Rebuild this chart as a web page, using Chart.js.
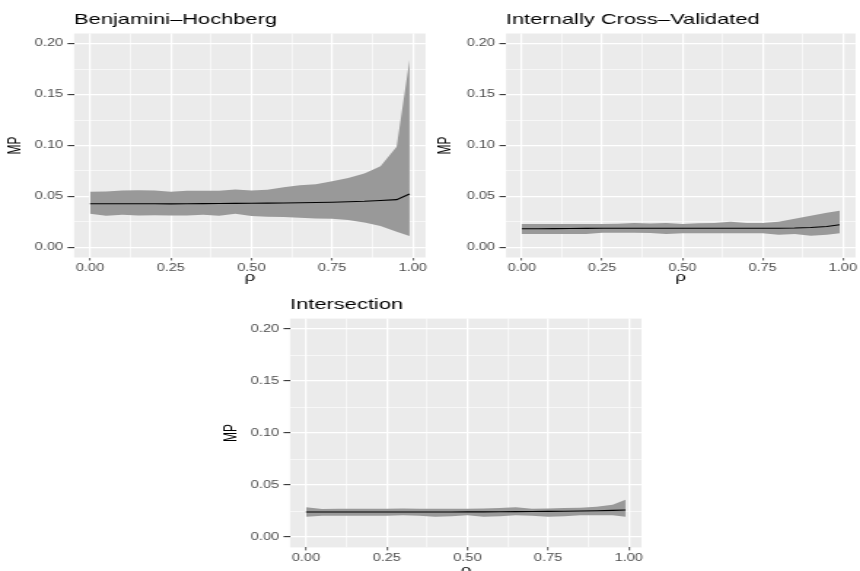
<!DOCTYPE html>
<html>
<head>
<meta charset="utf-8">
<script src="https://cdn.jsdelivr.net/npm/chart.js@4.4.1/dist/chart.umd.min.js"></script>
<style>
  body { margin: 0; background: #fff; width: 860px; height: 571px; overflow: hidden; position: relative; }
  canvas { position: absolute; }
</style>
</head>
<body>
<!-- canvases are drawn narrow and stretched sideways, as the reference picture is -->
<canvas id="bh"  width="295" height="290" style="left:0px;top:0px;width:430px;height:290px"></canvas>
<canvas id="icv" width="295" height="290" style="left:430px;top:0px;width:430px;height:290px"></canvas>
<canvas id="int" width="295" height="286" style="left:216px;top:285px;width:430px;height:286px"></canvas>
<script>
// rho values (x)
const rho = [0.00, 0.05, 0.10, 0.15, 0.20, 0.25, 0.30, 0.35, 0.40, 0.45, 0.50,
             0.55, 0.60, 0.65, 0.70, 0.75, 0.80, 0.85, 0.90, 0.95, 0.99];

// Benjamini-Hochberg
const bhMean  = [0.0428, 0.0428, 0.0428, 0.0428, 0.0428, 0.0427, 0.0428, 0.0429, 0.0430, 0.0432, 0.0433,
                 0.0434, 0.0435, 0.0437, 0.0440, 0.0443, 0.0447, 0.0452, 0.0460, 0.0468, 0.0523];
const bhUpper = [0.0546, 0.0548, 0.0559, 0.0560, 0.0557, 0.0546, 0.0556, 0.0555, 0.0556, 0.0569, 0.0559,
                 0.0565, 0.0590, 0.0610, 0.0620, 0.0650, 0.0680, 0.0725, 0.0797, 0.0987, 0.1840];
const bhLower = [0.0330, 0.0310, 0.0320, 0.0312, 0.0314, 0.0312, 0.0312, 0.0320, 0.0310, 0.0330, 0.0307,
                 0.0300, 0.0297, 0.0290, 0.0284, 0.0280, 0.0268, 0.0243, 0.0210, 0.0154, 0.0110];

// Internally Cross-Validated
const icvMean  = [0.0183, 0.0183, 0.0184, 0.0185, 0.0186, 0.0187, 0.0187, 0.0187, 0.0187, 0.0187, 0.0187,
                  0.0187, 0.0187, 0.0187, 0.0187, 0.0188, 0.0188, 0.0190, 0.0195, 0.0205, 0.0222];
const icvUpper = [0.0229, 0.0229, 0.0229, 0.0229, 0.0229, 0.0230, 0.0232, 0.0240, 0.0235, 0.0239, 0.0230,
                  0.0236, 0.0238, 0.0250, 0.0240, 0.0240, 0.0250, 0.0280, 0.0310, 0.0340, 0.0360];
const icvLower = [0.0130, 0.0130, 0.0130, 0.0130, 0.0130, 0.0144, 0.0144, 0.0144, 0.0140, 0.0130, 0.0137,
                  0.0137, 0.0137, 0.0137, 0.0137, 0.0137, 0.0124, 0.0130, 0.0114, 0.0124, 0.0137];

// Intersection
const intMean  = [0.0240, 0.0240, 0.0240, 0.0240, 0.0240, 0.0240, 0.0241, 0.0241, 0.0241, 0.0241, 0.0242,
                  0.0242, 0.0243, 0.0244, 0.0245, 0.0246, 0.0248, 0.0250, 0.0253, 0.0256, 0.0260];
const intUpper = [0.0286, 0.0270, 0.0272, 0.0272, 0.0272, 0.0272, 0.0275, 0.0272, 0.0272, 0.0272, 0.0272,
                  0.0275, 0.0280, 0.0286, 0.0272, 0.0275, 0.0280, 0.0282, 0.0290, 0.0310, 0.0357];
const intLower = [0.0195, 0.0205, 0.0205, 0.0205, 0.0205, 0.0205, 0.0210, 0.0205, 0.0195, 0.0200, 0.0210,
                  0.0195, 0.0200, 0.0210, 0.0205, 0.0195, 0.0200, 0.0210, 0.0210, 0.0210, 0.0195];

// axis breaks (major + minor grid)
const xBreaks = [0, 0.125, 0.25, 0.375, 0.5, 0.625, 0.75, 0.875, 1.0];
const yBreaks = [0, 0.025, 0.05, 0.075, 0.10, 0.125, 0.15, 0.175, 0.20];

const FONT = '"Liberation Sans", Arial, Helvetica, sans-serif';
const isMajorX = v => Math.abs(v * 4 - Math.round(v * 4)) < 1e-6;
const isMajorY = v => Math.abs(v * 20 - Math.round(v * 20)) < 1e-6;

// grey panel background + titles, ggplot style
const panelDeco = {
  id: 'panelDeco',
  beforeDraw(chart, args, opts) {
    const { ctx, chartArea: a } = chart;
    ctx.save();
    ctx.fillStyle = '#EBEBEB';
    ctx.fillRect(a.left, a.top, a.right - a.left, a.bottom - a.top);

    ctx.fillStyle = '#000';
    ctx.textBaseline = 'alphabetic';
    ctx.font = '15px ' + FONT;
    ctx.textAlign = 'left';
    ctx.fillText(opts.title, a.left, a.top - 9.5);

    ctx.font = '13px ' + FONT;
    ctx.textAlign = 'center';
    ctx.fillText('\u03C1', (a.left + a.right) / 2, a.bottom + opts.xTitleGap);

    ctx.font = '12px ' + FONT;
    ctx.translate(14, (a.top + a.bottom) / 2);
    ctx.rotate(-Math.PI / 2);
    ctx.fillText('MP', 0, 0);
    ctx.restore();
  }
};

function pts(ys) {
  return ys.map((y, i) => ({ x: rho[i], y: y }));
}

function makePanel(id, title, mean, upper, lower, lay) {
  const ctx = document.getElementById(id).getContext('2d');
  return new Chart(ctx, {
    type: 'line',
    data: {
      datasets: [
        { data: pts(mean), borderColor: '#000000', borderWidth: 1.1, pointRadius: 0, fill: false, tension: 0 },
        { data: pts(upper), borderWidth: 0, borderColor: 'rgba(0,0,0,0)', backgroundColor: '#999999',
          pointRadius: 0, fill: '+1', tension: 0 },
        { data: pts(lower), borderWidth: 0, borderColor: 'rgba(0,0,0,0)', pointRadius: 0, fill: false, tension: 0 }
      ]
    },
    options: {
      responsive: false,
      animation: false,
      events: [],
      layout: { padding: { top: lay.top, right: lay.right, left: 0, bottom: 0 } },
      plugins: {
        legend: { display: false },
        tooltip: { enabled: false },
        panelDeco: { title: title, xTitleGap: lay.xTitleGap }
      },
      scales: {
        x: {
          type: 'linear',
          min: -0.0495,
          max: 1.0395,
          afterBuildTicks: s => { s.ticks = xBreaks.map(v => ({ value: v })); },
          afterFit: s => { s.height = lay.xh; },
          border: { display: false },
          grid: {
            color: '#FFFFFF',
            lineWidth: c => (c.tick && isMajorX(c.tick.value)) ? 1.2 : 0.6,
            tickLength: 3,
            tickWidth: 0.8,
            tickColor: c => (c.tick && isMajorX(c.tick.value)) ? '#333333' : 'rgba(0,0,0,0)'
          },
          ticks: {
            autoSkip: false,
            maxRotation: 0,
            padding: 2,
            color: '#4D4D4D',
            font: { size: 10, family: FONT },
            callback: v => isMajorX(v) ? v.toFixed(2) : ''
          }
        },
        y: {
          type: 'linear',
          min: -0.01,
          max: 0.21,
          afterBuildTicks: s => { s.ticks = yBreaks.map(v => ({ value: v })); },
          afterFit: s => { s.width = lay.yw; },
          border: { display: false },
          grid: {
            color: '#FFFFFF',
            lineWidth: c => (c.tick && isMajorY(c.tick.value)) ? 1.2 : 0.6,
            tickLength: 4.5,
            tickWidth: 1.1,
            tickColor: c => (c.tick && isMajorY(c.tick.value)) ? '#333333' : 'rgba(0,0,0,0)'
          },
          ticks: {
            autoSkip: false,
            padding: 3,
            color: '#4D4D4D',
            font: { size: 10, family: FONT },
            callback: v => isMajorY(v) ? v.toFixed(2) : ''
          }
        }
      }
    },
    plugins: [panelDeco]
  });
}

makePanel('bh', 'Benjamini\u2013Hochberg', bhMean, bhUpper, bhLower,
  { top: 33.5, right: 2.7, yw: 50.8, xh: 32.5, xTitleGap: 23 });
makePanel('icv', 'Internally Cross\u2013Validated', icvMean, icvUpper, icvLower,
  { top: 33.5, right: 1.4, yw: 52.1, xh: 32.5, xTitleGap: 23 });
makePanel('int', 'Intersection', intMean, intUpper, intLower,
  { top: 33.6, right: 2.7, yw: 50.8, xh: 23.6, xTitleGap: 26.5 });
</script>
</body>
</html>
